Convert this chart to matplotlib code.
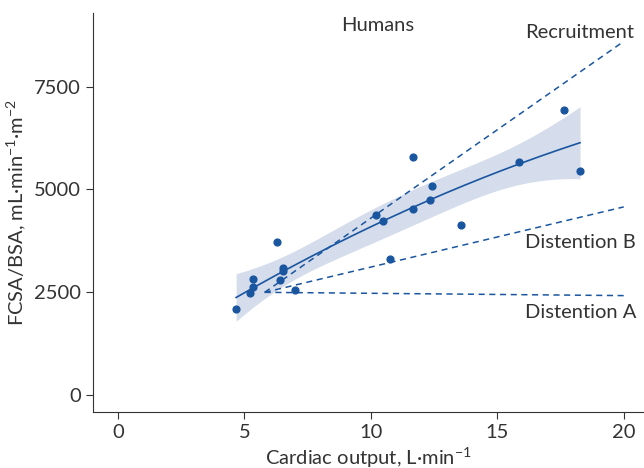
import numpy as np
import matplotlib.pyplot as plt

# === Dados ===
cardiac_output = [4.67, 5.22, 5.33, 5.33, 6.30, 6.41, 6.53, 6.53, 6.99, 10.21,
                  10.48, 10.76, 11.67, 11.68, 12.43, 12.34, 13.56, 15.87, 17.63, 18.27]
fcsa_bsa = [2094, 2483, 2614, 2808, 3713, 2798, 3009, 3090, 2541, 4376,
            4216, 3301, 5776, 4507, 5080, 4740, 4119, 5655, 6924, 5437]

model_co = [5.8, 20.0]
recruitment = [2490, 8600]
distention_b = [2490, 4570]
distention_a = [2490, 2410]

blue = '#1a56a0'
band = '#d5dceb'
txt = '#333333'

plt.rcParams['font.family'] = ['Lato', 'DejaVu Sans']
plt.rcParams['mathtext.fontset'] = 'custom'
plt.rcParams['mathtext.rm'] = 'Lato'
plt.rcParams['mathtext.default'] = 'regular'
fs = 14.5

x = np.array(cardiac_output)
y = np.array(fcsa_bsa)

# ajuste quadrático com intervalo de confiança de 95%
X = np.column_stack([np.ones_like(x), x, x ** 2])
beta, res, *_ = np.linalg.lstsq(X, y, rcond=None)
dof = len(x) - 3
sigma2 = np.sum((y - X @ beta) ** 2) / dof
cov = sigma2 * np.linalg.inv(X.T @ X)
xs = np.linspace(x.min(), x.max(), 200)
Xs = np.column_stack([np.ones_like(xs), xs, xs ** 2])
fit = Xs @ beta
se = np.sqrt(np.einsum('ij,jk,ik->i', Xs, cov, Xs))
t = 2.11

fig = plt.figure(figsize=(6.44, 4.68), dpi=100)
ax = fig.add_axes([0.144, 0.12, 0.856, 0.853])

ax.fill_between(xs, fit - t * se, fit + t * se, color=band, lw=0)
ax.plot(xs, fit, color=blue, lw=1.2)
ax.scatter(x, y, s=24, color=blue, zorder=3)

for serie in (recruitment, distention_b, distention_a):
    ax.plot(model_co, serie, color=blue, lw=1.1, ls=(0, (4, 3)))

ax.text(10.25, 8980, 'Humans', ha='center', va='center', fontsize=fs, color=txt)
ax.text(16.1, 8810, 'Recruitment', ha='left', va='center', fontsize=fs, color=txt)
ax.text(16.1, 3713, 'Distention B', ha='left', va='center', fontsize=fs, color=txt)
ax.text(16.1, 1990, 'Distention A', ha='left', va='center', fontsize=fs, color=txt)

ax.set_xlim(-1, 20.8)
ax.set_ylim(-420, 9300)
ax.set_xticks([0, 5, 10, 15, 20])
ax.set_yticks([0, 2500, 5000, 7500])
ax.spines['top'].set_visible(False)
ax.spines['right'].set_visible(False)
for s in ('left', 'bottom'):
    ax.spines[s].set_color(txt)
ax.tick_params(colors=txt, labelsize=fs, length=5, labelcolor=txt)
ax.set_xlabel('Cardiac output, L·min$^{−1}$', fontsize=fs, color=txt, labelpad=4)
ax.set_ylabel('FCSA/BSA, mL·min$^{−1}$·m$^{−2}$', fontsize=fs, color=txt, labelpad=4)

fig.savefig('out.png', dpi=100)
